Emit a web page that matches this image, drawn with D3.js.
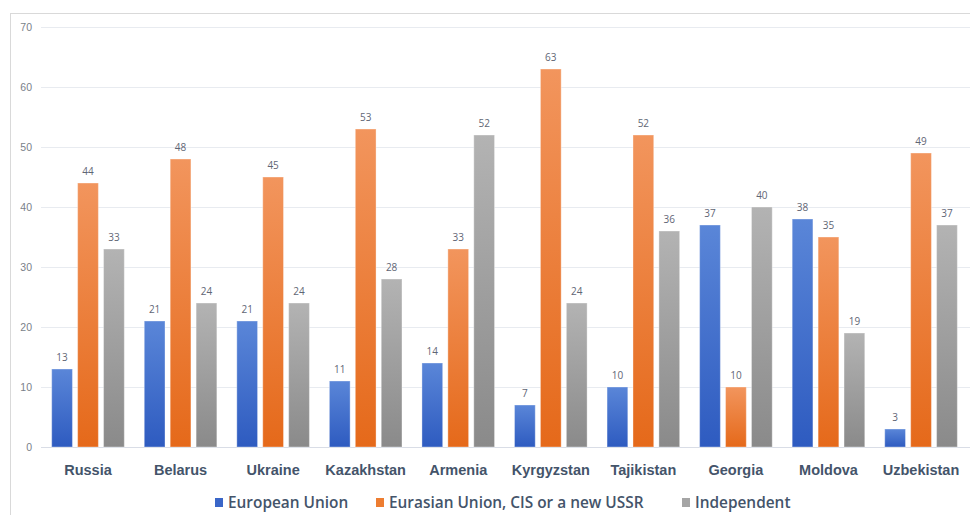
<!DOCTYPE html>
<html><head><meta charset="utf-8">
<script src="https://cdn.jsdelivr.net/npm/d3@7"></script>
<style>body{margin:0;background:#fff;}svg{display:block;font-family:"Open Sans","Noto Sans",sans-serif;}</style>
</head><body><svg id="c" width="970" height="515"></svg>
<script>
const categories = ["Russia","Belarus","Ukraine","Kazakhstan","Armenia","Kyrgyzstan","Tajikistan","Georgia","Moldova","Uzbekistan"];
const seriesNames = ["European Union","Eurasian Union, CIS or a new USSR","Independent"];
const euValues = [13,21,21,11,14,7,10,37,38,3];
const eurasianValues = [44,48,45,53,33,63,52,10,35,49];
const independentValues = [33,24,24,28,52,24,36,40,19,37];
const yTicks = [0,10,20,30,40,50,60,70];

const series = [euValues, eurasianValues, independentValues];
const grads = [["#5a86d8","#2e5bc0"],["#f2955d","#e5691a"],["#b3b3b3","#8a8a8a"]];
const solid = ["#3a66c8","#ed7d31","#a5a5a5"];

const svg = d3.select("#c");
svg.append("rect").attr("x",10.5).attr("y",13.5).attr("width",980).attr("height",520)
  .attr("fill","#fff").attr("stroke","#d9d9d9");

const defs = svg.append("defs");
grads.forEach((g,i)=>{
  const lg = defs.append("linearGradient").attr("id","g"+i).attr("x1",0).attr("y1",0).attr("x2",0).attr("y2",1);
  lg.append("stop").attr("offset","0%").attr("stop-color",g[0]);
  lg.append("stop").attr("offset","100%").attr("stop-color",g[1]);
});

const y = d3.scaleLinear().domain([0,70]).range([447,27]);
const x = d3.scaleBand().domain(categories).range([41.7,967.3]);
const inner = d3.scaleBand().domain(d3.range(3)).range([10,82.6]).paddingInner(0.2);

// gridlines
svg.append("g").selectAll("line").data(yTicks).join("line")
  .attr("x1",41).attr("x2",970).attr("y1",d=>y(d)+0.5).attr("y2",d=>y(d)+0.5)
  .attr("stroke",d=>d===0?"#d9dde6":"#e8ebf0").attr("stroke-width",1);

const yAxis = d3.axisLeft(y).tickValues(yTicks).tickSize(0).tickPadding(0);
const ya = svg.append("g").attr("transform","translate(32,0)").call(yAxis);
ya.select(".domain").remove();
ya.selectAll("text").attr("fill","#7a7f8a").attr("font-size","10.5px").attr("dy","0.32em");

// bars
series.forEach((vals,si)=>{
  const g = svg.append("g");
  g.selectAll("rect").data(vals).join("rect")
    .attr("x",(d,i)=>x(categories[i])+inner(si))
    .attr("y",d=>y(d))
    .attr("width",inner.bandwidth())
    .attr("height",d=>y(0)-y(d))
    .attr("fill","url(#g"+si+")")
    .attr("stroke","rgba(255,255,255,0.35)").attr("stroke-width",1);
  g.selectAll("text").data(vals).join("text")
    .attr("x",(d,i)=>x(categories[i])+inner(si)+inner.bandwidth()/2)
    .attr("y",d=>y(d)-8)
    .attr("text-anchor","middle").attr("font-size","10px").attr("fill","#5f6675")
    .text(d=>d);
});

// x axis labels
const xAxis = d3.axisBottom(x).tickSize(0).tickPadding(0);
const xa = svg.append("g").attr("transform","translate(0,462)").call(xAxis);
xa.select(".domain").remove();
xa.selectAll("text").attr("fill","#44546a").attr("font-size","14.5px").attr("font-weight","bold").attr("dy","0.9em");

// legend
const legX = [215,376,682];
const leg = svg.append("g");
seriesNames.forEach((n,i)=>{
  leg.append("rect").attr("x",legX[i]).attr("y",498).attr("width",8).attr("height",9).attr("fill",solid[i]);
  leg.append("text").attr("x",legX[i]+13).attr("y",508).attr("font-size","15.4px").attr("font-weight","600")
    .attr("fill","#44546a").text(n);
});
</script></body></html>
